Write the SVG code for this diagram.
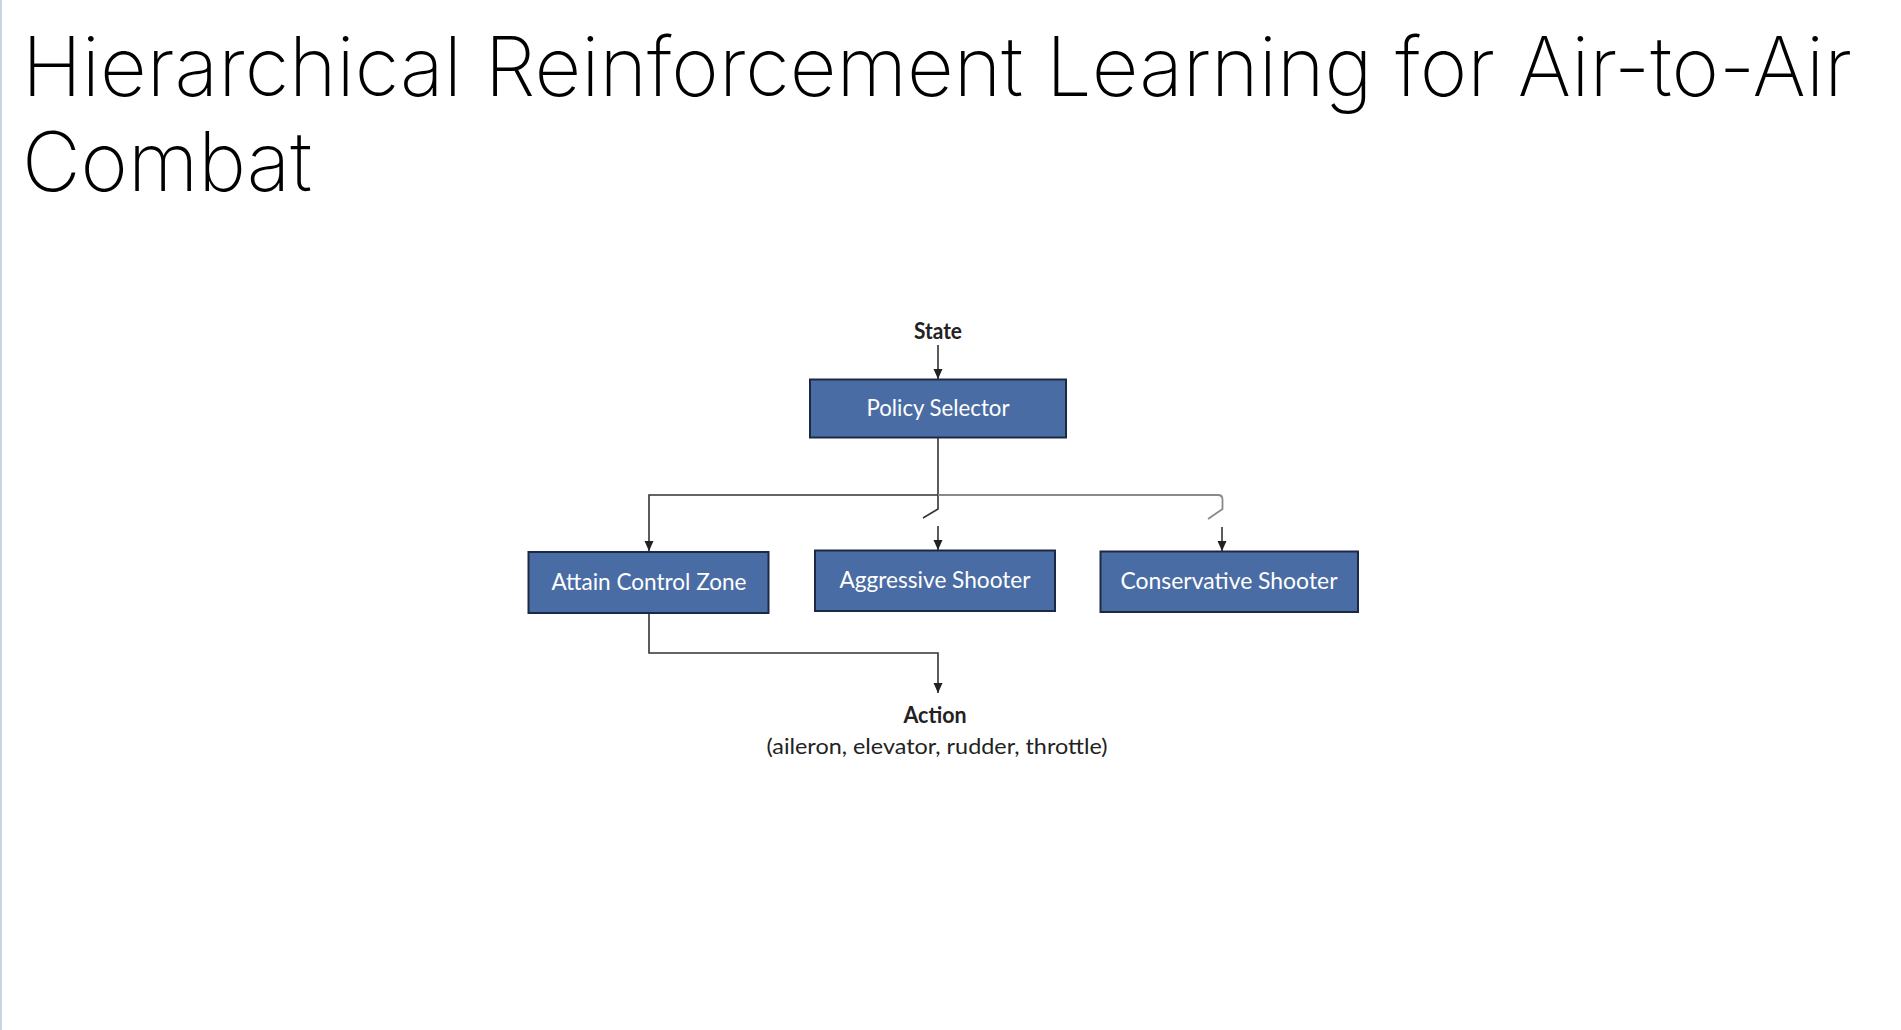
<svg xmlns="http://www.w3.org/2000/svg" width="1901" height="1030" viewBox="0 0 1901 1030">
  <defs>
    <style>
      .title { font-family: Inter, "Noto Sans", "Liberation Sans", sans-serif; font-weight: 200; font-size: 82px; fill: #000; }
      .box { fill: #4a6ca4; stroke: #1c2944; stroke-width: 2; }
      .boxtxt { font-family: Lato, "Noto Sans", "Liberation Sans", sans-serif; font-size: 22.5px; fill: #ffffff; text-anchor: middle; }
      .lbl { font-family: Lato, "Noto Sans", "Liberation Sans", sans-serif; font-size: 22px; fill: #222; text-anchor: middle; }
      .bold { font-weight: 700; }
      .dk { fill: none; stroke: #333; stroke-width: 1.6; }
      .gr { fill: none; stroke: #8a8a8a; stroke-width: 1.8; }
    </style>
    <marker id="arr" viewBox="0 0 10 10" refX="10" refY="5" markerWidth="10" markerHeight="10" markerUnits="userSpaceOnUse" orient="auto">
      <path d="M0,0.5 L10,5 L0,9.5 Z" fill="#222"/>
    </marker>
  </defs>
  <rect x="0" y="0" width="1901" height="1030" fill="#ffffff"/>
  <rect x="0" y="0" width="2" height="1030" fill="#c9d5de"/>

  <g id="title">
    <text class="title" x="22" y="96" textLength="1830" lengthAdjust="spacingAndGlyphs">Hierarchical Reinforcement Learning for Air-to-Air</text>
    <text class="title" x="22" y="191" textLength="290" lengthAdjust="spacingAndGlyphs">Combat</text>
  </g>

  <g id="connectors">
    <path class="dk" d="M938,345 V379" marker-end="url(#arr)"/>
    <path class="dk" d="M938,438 V509 L923,518"/>
    <path class="dk" d="M938,495 H649 V551" marker-end="url(#arr)"/>
    <path class="gr" d="M938,495 H1218 Q1222.5,495 1222.5,499.5 V509 L1208,519"/>
    <path class="dk" d="M938,526 V550" marker-end="url(#arr)"/>
    <path class="dk" d="M1222,527 V551" marker-end="url(#arr)"/>
    <path class="dk" d="M649,613 V653 H938 V693" marker-end="url(#arr)"/>
  </g>

  <g id="state">
    <text class="lbl bold" x="938" y="339" font-size="20" textLength="48" lengthAdjust="spacingAndGlyphs">State</text>
  </g>

  <g id="policy-selector">
    <rect class="box" x="810" y="379.5" width="256" height="58"/>
    <text class="boxtxt" x="938" y="416" textLength="143" lengthAdjust="spacingAndGlyphs">Policy Selector</text>
  </g>

  <g id="attain-control-zone">
    <rect class="box" x="528.5" y="552" width="240" height="61"/>
    <text class="boxtxt" x="649" y="590" textLength="195" lengthAdjust="spacingAndGlyphs">Attain Control Zone</text>
  </g>

  <g id="aggressive-shooter">
    <rect class="box" x="815" y="550.5" width="240" height="60.5"/>
    <text class="boxtxt" x="935" y="588" textLength="191" lengthAdjust="spacingAndGlyphs">Aggressive Shooter</text>
  </g>

  <g id="conservative-shooter">
    <rect class="box" x="1100.5" y="551.5" width="257.5" height="60.5"/>
    <text class="boxtxt" x="1229" y="589" textLength="217" lengthAdjust="spacingAndGlyphs">Conservative Shooter</text>
  </g>

  <g id="action">
    <text class="lbl bold" x="935" y="723" textLength="63" lengthAdjust="spacingAndGlyphs">Action</text>
    <text class="lbl" x="937" y="754" textLength="341" lengthAdjust="spacingAndGlyphs">(aileron, elevator, rudder, throttle)</text>
  </g>
</svg>
